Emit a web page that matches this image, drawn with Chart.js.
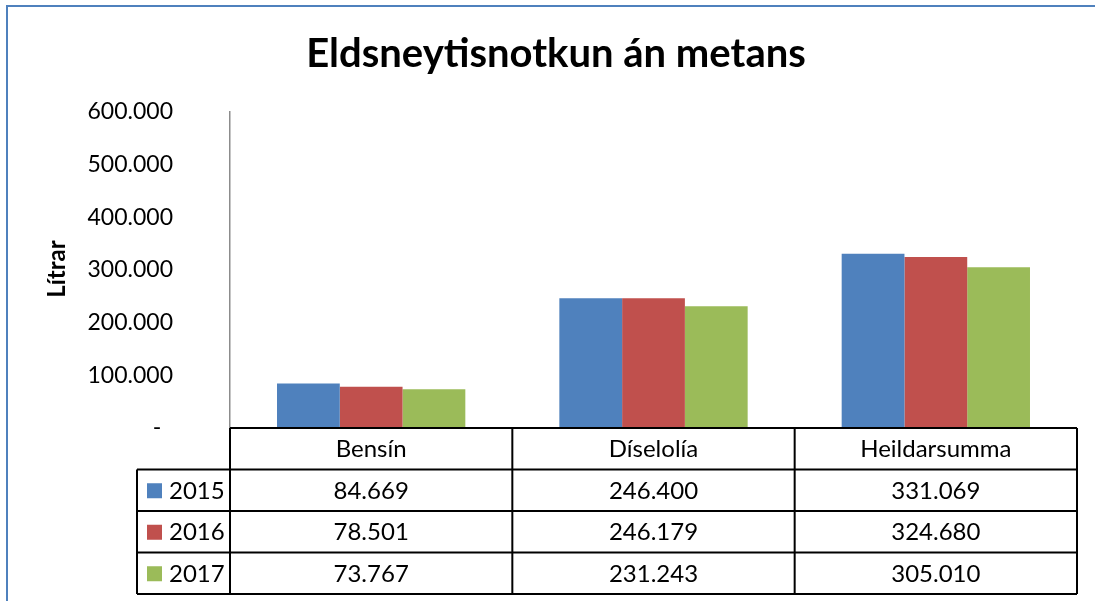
<!DOCTYPE html>
<html>
<head>
<meta charset="utf-8">
<script src="https://cdn.jsdelivr.net/npm/chart.js@4/dist/chart.umd.min.js"></script>
<style>
  html, body { margin: 0; padding: 0; background: #fff; }
  #wrap { width: 1095px; height: 601px; }
</style>
</head>
<body>
<div id="wrap"><canvas id="myChart" width="1095" height="601"></canvas></div>
<script>
const categories = ['Bensín', 'Díselolía', 'Heildarsumma'];
const years = ['2015', '2016', '2017'];
const data2015 = [84669, 246400, 331069];
const data2016 = [78501, 246179, 324680];
const data2017 = [73767, 231243, 305010];
const yMax = 600000;
const yStep = 100000;
const chartTitle = 'Eldsneytisnotkun án metans';
const yTitle = 'Lítrar';
const colors = ['#4F81BD', '#C0504D', '#9BBB59'];

const series = [data2015, data2016, data2017];
const FONT = 'Lato, "Open Sans", sans-serif';

// 600000 -> "600.000"
const fmt = n => String(n).replace(/\B(?=(\d{3})+(?!\d))/g, '.');

const ROW_H = 41.5;

// title, axis title, border and the data table below the plot
const extras = {
  id: 'extras',
  afterDraw(chart) {
    const { ctx, chartArea } = chart;
    const x = chart.scales.x;
    const catW = (chartArea.right - chartArea.left) / categories.length;
    ctx.save();

    // outer frame (top + left visible)
    ctx.strokeStyle = '#4F81BD';
    ctx.lineWidth = 2;
    ctx.beginPath();
    ctx.moveTo(7, 601);
    ctx.lineTo(7, 6);
    ctx.lineTo(1095, 6);
    ctx.stroke();

    // title
    ctx.fillStyle = '#000';
    ctx.textAlign = 'center';
    ctx.textBaseline = 'middle';
    ctx.font = 'bold 40px ' + FONT;
    ctx.fillText(chartTitle, 556, 54);

    // y axis title
    ctx.save();
    ctx.translate(57, 269);
    ctx.rotate(-Math.PI / 2);
    ctx.font = 'bold 24px ' + FONT;
    ctx.fillText(yTitle, 0, 0);
    ctx.restore();

    // data table
    const top = chartArea.bottom;
    const left = chartArea.left;
    const right = chartArea.right;
    const legLeft = 137;
    const bottom = top + ROW_H * (years.length + 1);
    ctx.strokeStyle = '#000';
    ctx.lineWidth = 2;
    ctx.beginPath();
    ctx.moveTo(left, top); ctx.lineTo(right, top);
    ctx.moveTo(left, top); ctx.lineTo(left, bottom);
    ctx.moveTo(right, top); ctx.lineTo(right, bottom);
    for (let i = 1; i < categories.length; i++) {
      const cx = left + catW * i;
      ctx.moveTo(cx, top); ctx.lineTo(cx, bottom);
    }
    for (let r = 1; r <= years.length + 1; r++) {
      const y = top + ROW_H * r;
      ctx.moveTo(legLeft, y); ctx.lineTo(right, y);
    }
    ctx.moveTo(legLeft, top + ROW_H); ctx.lineTo(legLeft, bottom);
    ctx.stroke();

    ctx.font = '24px ' + FONT;
    ctx.textAlign = 'center';
    categories.forEach((c, i) => {
      ctx.fillText(c, x.getPixelForValue(i), top + ROW_H / 2 + 1);
    });
    years.forEach((yr, r) => {
      const cy = top + ROW_H * (r + 1.5) + 1;
      ctx.fillStyle = colors[r];
      ctx.fillRect(147, cy - 8, 15, 15);
      ctx.fillStyle = '#000';
      ctx.textAlign = 'left';
      ctx.fillText(yr, 169, cy);
      ctx.textAlign = 'center';
      series[r].forEach((v, i) => {
        ctx.fillText(fmt(v), x.getPixelForValue(i), cy);
      });
    });
    ctx.restore();
  }
};

const ctx = document.getElementById('myChart').getContext('2d');
const myChart = new Chart(ctx, {
  type: 'bar',
  data: {
    labels: categories,
    datasets: years.map((yr, i) => ({
      label: yr,
      data: series[i],
      backgroundColor: colors[i],
      borderWidth: 0,
      categoryPercentage: 0.667,
      barPercentage: 1.0
    }))
  },
  options: {
    responsive: false,
    animation: false,
    layout: {
      padding: { left: 8, right: 18, top: 112, bottom: 601 - 428 }
    },
    plugins: {
      legend: { display: false },
      title: { display: false },
      tooltip: { enabled: false }
    },
    scales: {
      x: {
        display: false
      },
      y: {
        min: 0,
        max: yMax,
        grid: { display: false },
        border: { display: true, color: '#8C8C8C', width: 1.5 },
        afterFit: scale => { scale.width = 222; },
        ticks: {
          stepSize: yStep,
          padding: 49,
          color: '#000',
          font: { family: FONT, size: 23 },
          callback: v => v === 0 ? '-  ' : fmt(v)
        }
      }
    }
  },
  plugins: [extras]
});
</script>
</body>
</html>
